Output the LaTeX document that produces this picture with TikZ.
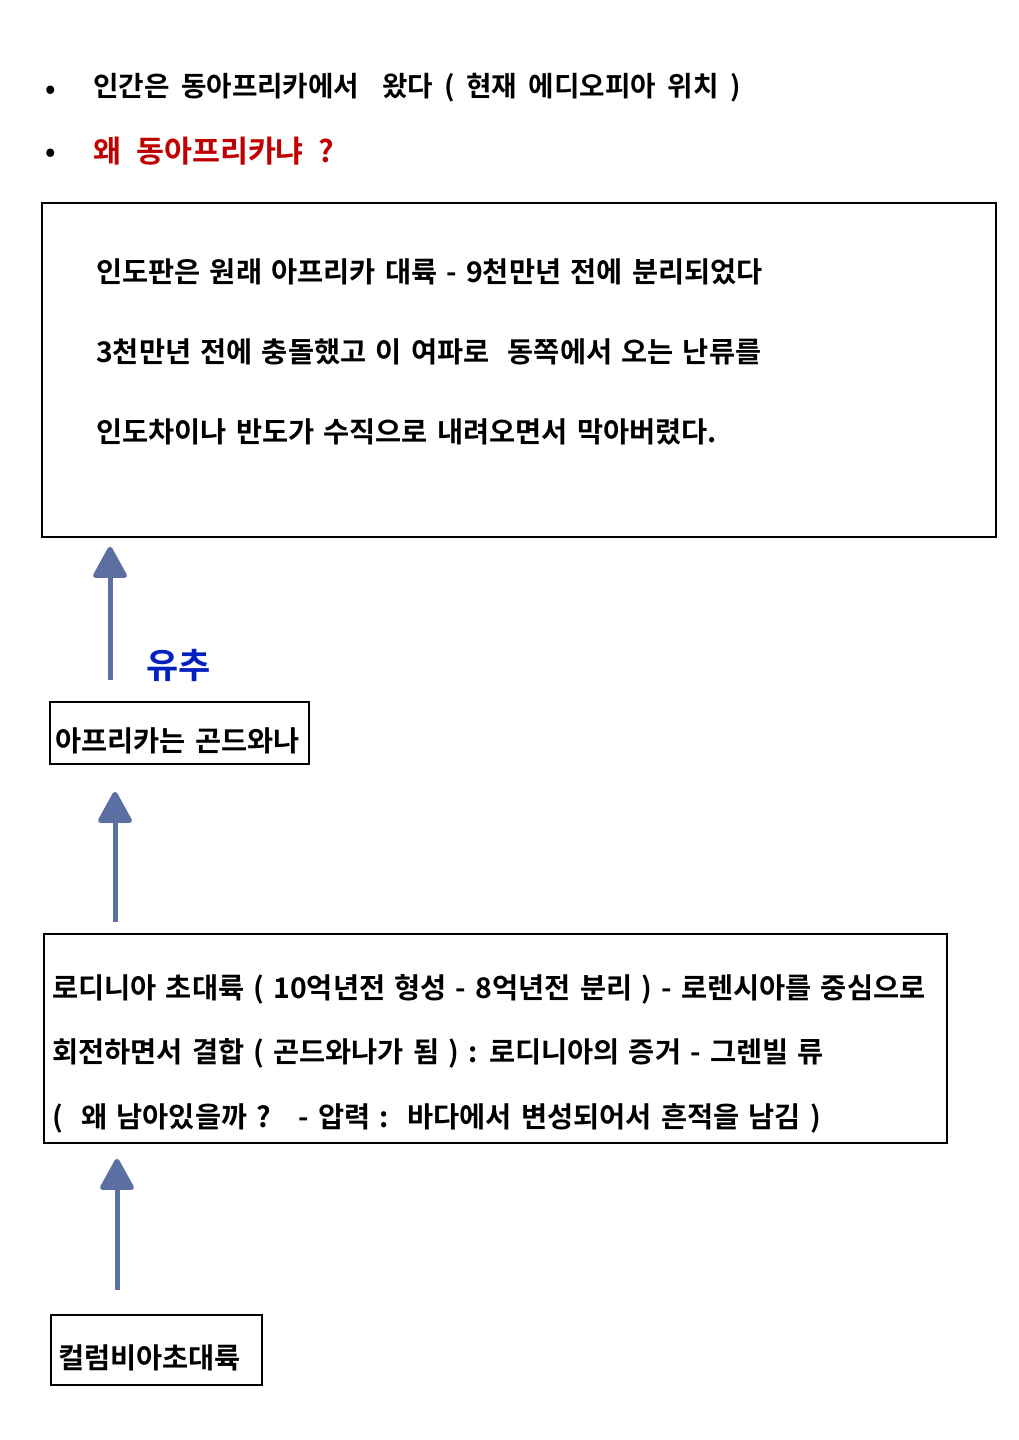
\documentclass[tikz,border=0pt]{standalone}
\usepackage{fontspec}
\setmainfont{Noto Sans CJK KR}[BoldFont={* Bold}]
\usepackage{tikz}
\usetikzlibrary{arrows.meta,positioning,calc}
\definecolor{arrowblue}{RGB}{91,111,163}
\definecolor{askred}{RGB}{192,0,0}
\definecolor{hintblue}{RGB}{0,32,192}
\newcommand\boxfont{\bfseries\fontsize{28.4}{34}\selectfont\spaceskip 9.2pt\relax}
\newcommand\topfont{\bfseries\fontsize{27.7}{34}\selectfont\spaceskip 11.4pt\relax}
\newcommand\askfont{\bfseries\fontsize{30.4}{36}\selectfont\spaceskip 15pt\relax}

\begin{document}
\begin{tikzpicture}[x=1pt,y=-1pt,
		box/.style={draw,line width=1.8pt,anchor=north west,inner sep=0pt},
		txt/.style={anchor=west,inner sep=0pt,font=\boxfont},
		toptxt/.style={txt,font=\topfont},
		asktxt/.style={txt,text=askred,font=\askfont},
		uparrow/.style={draw=arrowblue,line width=5pt,-{Triangle[width=36pt,length=34pt,round]},arrowblue}]
		\useasboundingbox (0,0) rectangle (1018,1440);
		% bullets on top
		\node[toptxt] (dot1) at (45,92) {•};
		\node[toptxt] (dot2) at (45,155) {•};
		\node[toptxt] (human) at (93,88) {인간은 동아프리카에서~~왔다 ( 현재 에디오피아 위치 )};
		\node[asktxt] (why) at (93,151) {왜 동아프리카냐 ?};
		% boxes
		\node[box,minimum width=954pt,minimum height=334pt] (india) at (41,202) {};
		\node[box,minimum width=259pt,minimum height=62pt] (gond) at (49,701) {};
		\node[box,minimum width=903pt,minimum height=209pt] (rodinia) at (43,933) {};
		\node[box,minimum width=211pt,minimum height=70pt] (columbia) at (50,1314) {};
		% texts in the boxes
		\node[txt] (india1) at (96,272) {인도판은 원래 아프리카 대륙 - 9천만년 전에 분리되었다};
		\node[txt] (india2) at (96,352) {3천만년 전에 충돌했고 이 여파로~~동쪽에서 오는 난류를};
		\node[txt] (india3) at (96,432) {인도차이나 반도가 수직으로 내려오면서 막아버렸다.};
		\node[txt] (gondtext) at (55,741) {아프리카는 곤드와나};
		\node[txt] (rod1) at (52,989) {로디니아 초대륙 ( 10억년전 형성 - 8억년전 분리 ) - 로렌시아를 중심으로};
		\node[txt] (rod2) at (52,1053) {회전하면서 결합 ( 곤드와나가 됨 ) : 로디니아의 증거 - 그렌빌 류};
		\node[txt] (rod3) at (52,1118) {(~~왜 남아있을까 ?~~~- 압력 :~~바다에서 변성되어서 흔적을 남김 )};
		\node[txt] (coltext) at (58,1358) {컬럼비아초대륙};
		% arrows
		\coordinate (a1) at (110,680);
		\coordinate (a2) at (115,922);
		\coordinate (a3) at (117,1290);
		\draw[uparrow,shorten >=9pt] (a1) -- (a1 |- india.south);
		\draw[uparrow,shorten >=27pt] (a2) -- (a2 |- gond.south);
		\draw[uparrow,shorten >=15pt] (a3) -- (a3 |- rodinia.south);
		\node[txt,text=hintblue,font=\bfseries\fontsize{35}{40}\selectfont] (hint) at (146,665) {유추};
\end{tikzpicture}
\end{document}
